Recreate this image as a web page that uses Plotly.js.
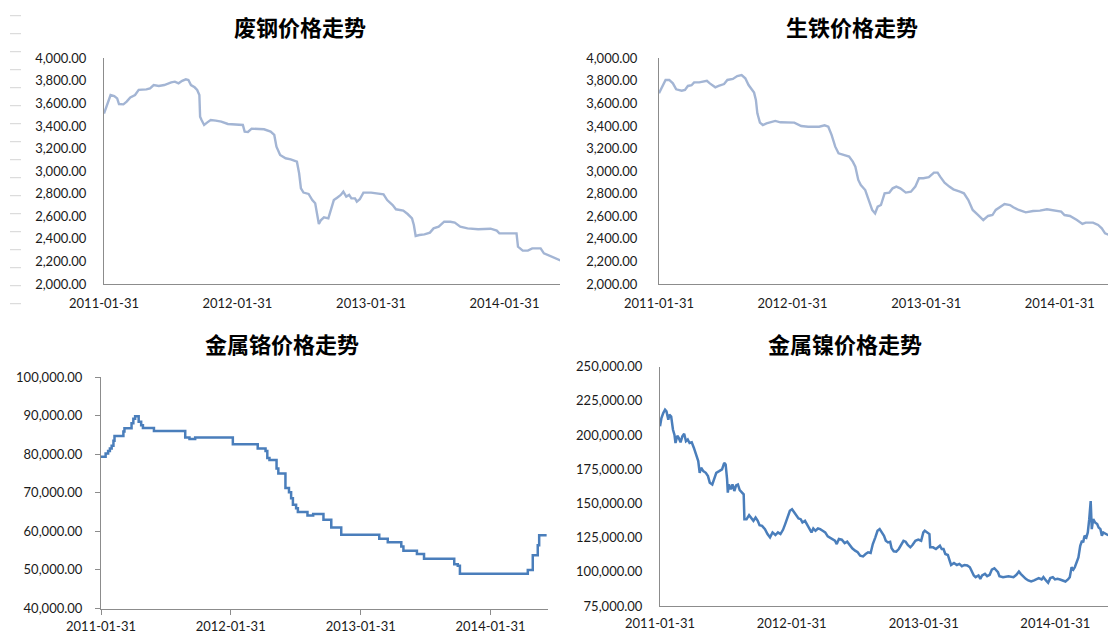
<!DOCTYPE html>
<html>
<head>
<meta charset="utf-8">
<script src="https://cdn.plot.ly/plotly-3.0.1.min.js"></script>
<style>html,body{margin:0;padding:0;background:#fff;}#chart{width:1108px;height:634px;}</style>
</head>
<body>
<div id="chart"></div>
<script>
// ---------- titles & ticks ----------
const chartTitles = ['废钢价格走势', '生铁价格走势', '金属铬价格走势', '金属镍价格走势'];
const xTickVals = ['2011-01-31', '2012-01-31', '2013-01-31', '2014-01-31'];
const xTickText = ['2011-01-31', '2012-01-31', '2013-01-31', '2014-01-31'];

// ---------- 废钢 (scrap steel) ----------
const scrapDates = [
  '2011-01-31','2011-02-09','2011-02-18','2011-02-28','2011-03-08','2011-03-13','2011-03-25','2011-04-03','2011-04-13','2011-04-26',
  '2011-05-06','2011-05-27','2011-06-06','2011-06-16','2011-06-30','2011-07-15','2011-07-25','2011-08-03','2011-08-13','2011-08-23',
  '2011-09-02','2011-09-12','2011-09-19','2011-09-26','2011-10-06','2011-10-13','2011-10-19','2011-10-21','2011-10-25','2011-11-01',
  '2011-11-09','2011-11-19','2011-12-03','2011-12-18','2012-01-05','2012-01-26','2012-02-15','2012-02-20','2012-02-29','2012-03-10',
  '2012-03-25','2012-04-13','2012-05-01','2012-05-11','2012-05-17','2012-05-27','2012-06-11','2012-06-25','2012-07-12','2012-07-18',
  '2012-07-23','2012-07-30','2012-08-13','2012-08-23','2012-08-31','2012-09-05','2012-09-10','2012-09-16','2012-09-24','2012-10-06',
  '2012-10-14','2012-10-21','2012-10-30','2012-11-09','2012-11-16','2012-11-24','2012-12-02','2012-12-08','2012-12-18','2012-12-23',
  '2012-12-31','2013-01-10','2013-01-31','2013-02-24','2013-03-06','2013-03-16','2013-03-31','2013-04-09','2013-04-29','2013-05-11',
  '2013-05-23','2013-05-28','2013-06-02','2013-06-12','2013-06-26','2013-07-11','2013-07-21','2013-08-04','2013-08-19','2013-09-05',
  '2013-09-17','2013-10-02','2013-10-22','2013-11-20','2013-12-24','2014-01-10','2014-01-17','2014-03-05','2014-03-09','2014-03-22',
  '2014-04-05','2014-04-17','2014-05-10','2014-05-19','2014-06-08','2014-06-23','2014-07-10'
];
const scrapValues = [
  3510,3586,3675,3666,3645,3595,3592,3616,3654,3675,
  3720,3725,3734,3763,3755,3763,3778,3787,3793,3778,
  3800,3814,3808,3763,3743,3720,3675,3483,3453,3409,
  3430,3453,3448,3439,3418,3415,3409,3350,3347,3377,
  3374,3371,3350,3321,3217,3143,3114,3105,3084,2981,
  2848,2810,2798,2744,2715,2626,2532,2567,2591,2582,
  2671,2744,2765,2789,2818,2774,2789,2759,2759,2730,
  2751,2810,2810,2804,2795,2744,2700,2662,2650,2620,
  2582,2523,2426,2434,2440,2455,2493,2508,2552,2552,
  2544,2508,2493,2485,2490,2473,2449,2449,2331,2296,
  2296,2316,2316,2272,2242,2219,2200
];

// ---------- 生铁 (pig iron) ----------
const pigDates = [
  '2011-01-31','2011-02-09','2011-02-18','2011-02-28','2011-03-10','2011-03-19','2011-04-03','2011-04-12','2011-04-20','2011-04-30',
  '2011-05-07','2011-05-21','2011-06-05','2011-06-11','2011-06-19','2011-07-04','2011-07-13','2011-07-28','2011-08-06','2011-08-21',
  '2011-09-02','2011-09-14','2011-09-24','2011-10-03','2011-10-18','2011-10-23','2011-10-27','2011-11-03','2011-11-11','2011-11-21',
  '2011-12-15','2011-12-29','2012-02-05','2012-02-14','2012-02-24','2012-03-14','2012-04-13','2012-04-28','2012-05-08','2012-05-17',
  '2012-05-27','2012-06-05','2012-06-20','2012-07-04','2012-07-14','2012-07-21','2012-07-29','2012-08-05','2012-08-17','2012-08-27',
  '2012-09-05','2012-09-13','2012-09-20','2012-09-29','2012-10-09','2012-10-22','2012-10-31','2012-11-10','2012-11-21','2012-12-06',
  '2012-12-20','2013-01-01','2013-01-11','2013-01-23','2013-02-07','2013-02-21','2013-03-03','2013-03-10','2013-03-22','2013-04-04',
  '2013-04-15','2013-05-03','2013-05-14','2013-05-26','2013-06-07','2013-06-22','2013-07-06','2013-07-19','2013-07-31','2013-08-09',
  '2013-08-21','2013-09-02','2013-09-17','2013-09-26','2013-10-11','2013-10-30','2013-11-19','2013-12-08','2013-12-27','2014-01-11',
  '2014-02-04','2014-02-13','2014-02-28','2014-03-19','2014-04-03','2014-04-12','2014-05-02','2014-05-16','2014-05-26','2014-06-04',
  '2014-06-16','2014-07-10'
];
const pigValues = [
  3690,3755,3808,3808,3778,3725,3713,3720,3755,3761,
  3787,3787,3793,3800,3778,3743,3755,3772,3808,3817,
  3843,3852,3823,3763,3696,3631,3513,3430,3409,3424,
  3445,3433,3430,3418,3400,3394,3394,3406,3394,3321,
  3217,3158,3143,3129,3084,3040,2922,2877,2833,2744,
  2656,2626,2685,2700,2804,2810,2848,2863,2848,2810,
  2818,2863,2937,2937,2946,2987,2987,2951,2898,2863,
  2839,2818,2804,2744,2656,2611,2567,2603,2611,2656,
  2685,2709,2700,2680,2656,2635,2647,2650,2662,2656,
  2641,2611,2603,2567,2532,2544,2544,2523,2493,2449,
  2430,2400
];

// ---------- 金属铬 (chromium metal), step changes ----------
const chromeDates = [
  '2011-01-31','2011-02-13','2011-02-20','2011-02-25','2011-03-02','2011-03-07','2011-03-10','2011-04-04','2011-04-07','2011-04-27',
  '2011-05-02','2011-05-07','2011-05-17','2011-05-24','2011-05-29','2011-06-29','2011-09-25','2011-10-07','2011-10-23','2012-02-06',
  '2012-04-16','2012-05-08','2012-05-13','2012-05-19','2012-06-08','2012-06-13','2012-07-03','2012-07-13','2012-07-19','2012-07-24',
  '2012-08-02','2012-08-07','2012-09-03','2012-09-19','2012-10-18','2012-11-09','2012-12-07','2013-03-24','2013-04-17','2013-05-25',
  '2013-05-31','2013-07-08','2013-07-28','2013-10-21','2013-10-31','2013-11-06','2014-05-16','2014-05-30','2014-06-13','2014-06-17',
  '2014-07-08'
];
const chromeValues = [
  79300,80200,80800,81500,82200,83500,84700,85900,86700,88000,
  89200,89800,88400,87500,86800,86000,84300,83900,84300,82600,
  81500,80800,79000,78500,76300,75000,71200,70100,68600,66900,
  66000,65000,64100,64500,63000,61000,59100,58100,57200,56100,
  55000,54100,52900,51500,51100,49000,50000,53800,56400,59000,
  59000
];

// ---------- 金属镍 (nickel metal) ----------
const nickelDates = [
  '2011-01-31','2011-02-04','2011-02-09','2011-02-14','2011-02-18','2011-02-23','2011-02-26','2011-03-03','2011-03-08','2011-03-12',
  '2011-03-15','2011-03-20','2011-03-24','2011-03-29','2011-04-03','2011-04-08','2011-04-13','2011-04-18','2011-04-23','2011-04-29',
  '2011-05-05','2011-05-12','2011-05-17','2011-05-21','2011-05-25','2011-05-31','2011-06-07','2011-06-13','2011-06-18','2011-06-25',
  '2011-06-30','2011-07-06','2011-07-14','2011-07-22','2011-07-28','2011-08-01','2011-08-05','2011-08-07','2011-08-10','2011-08-15',
  '2011-08-20','2011-08-25','2011-08-30','2011-09-04','2011-09-09','2011-09-15','2011-09-20','2011-09-22','2011-09-28','2011-10-05',
  '2011-10-12','2011-10-17','2011-10-23','2011-10-29','2011-11-03','2011-11-10','2011-11-18','2011-11-25','2011-12-02','2011-12-09',
  '2011-12-17','2011-12-24','2011-12-31','2012-01-07','2012-01-13','2012-01-20','2012-01-26','2012-02-01','2012-02-07','2012-02-13',
  '2012-02-19','2012-02-25','2012-03-01','2012-03-08','2012-03-13','2012-03-20','2012-03-26','2012-03-31','2012-04-06','2012-04-13',
  '2012-04-19','2012-04-26','2012-05-03','2012-05-10','2012-05-18','2012-05-25','2012-05-30','2012-06-04','2012-06-10','2012-06-18',
  '2012-06-26','2012-07-03','2012-07-10','2012-07-17','2012-07-25','2012-08-01','2012-08-08','2012-08-16','2012-08-23','2012-08-30',
  '2012-09-06','2012-09-12','2012-09-19','2012-09-25','2012-10-01','2012-10-06','2012-10-13','2012-10-18','2012-10-24','2012-10-30',
  '2012-11-03','2012-11-09','2012-11-16','2012-11-23','2012-11-30','2012-12-06','2012-12-12','2012-12-18','2012-12-25','2012-12-31',
  '2013-01-08','2013-01-16','2013-01-24','2013-01-30','2013-02-03','2013-02-11','2013-02-16','2013-02-18','2013-02-26','2013-03-06',
  '2013-03-12','2013-03-17','2013-03-22','2013-03-27','2013-04-01','2013-04-08','2013-04-13','2013-04-17','2013-04-25','2013-05-03',
  '2013-05-10','2013-05-17','2013-05-24','2013-06-01','2013-06-08','2013-06-13','2013-06-19','2013-06-24','2013-07-02','2013-07-07',
  '2013-07-12','2013-07-20','2013-07-26','2013-08-02','2013-08-08','2013-08-15','2013-08-20','2013-08-25','2013-08-29','2013-09-08',
  '2013-09-23','2013-10-07','2013-10-15','2013-10-22','2013-10-27','2013-11-04','2013-11-10','2013-11-17','2013-11-25','2013-12-03',
  '2013-12-10','2013-12-16','2013-12-24','2013-12-29','2014-01-05','2014-01-11','2014-01-17','2014-01-24','2014-01-30','2014-02-06',
  '2014-02-13','2014-02-20','2014-02-28','2014-03-07','2014-03-12','2014-03-17','2014-03-22','2014-03-26','2014-03-31','2014-04-05',
  '2014-04-10','2014-04-15','2014-04-18','2014-04-22','2014-04-27','2014-05-01','2014-05-05','2014-05-09','2014-05-12','2014-05-16',
  '2014-05-21','2014-05-27','2014-05-31','2014-06-05','2014-06-09','2014-06-13','2014-06-25','2014-07-10'
];
const nickelValues = [
  206400,212400,216100,218500,217300,211200,214900,213600,203900,200300,
  194200,199500,197900,194700,199100,201000,195500,196700,194200,194700,
  190600,185800,181000,172400,176100,173600,172400,170000,165200,163900,
  167600,172400,173600,174900,179700,178500,167600,157900,163900,160300,
  163900,159100,163200,163900,159800,157900,156700,138500,138500,141400,
  139000,137300,139700,137300,134100,133600,131200,127600,125200,128800,
  126900,128800,127600,130700,134900,139700,144600,145800,143300,140900,
  139000,138500,136100,137300,134900,132400,128800,131700,130000,131700,
  131200,130000,128800,125900,124700,124000,122700,120300,124000,123500,
  121000,122000,119100,117200,115500,114300,111800,111300,113000,114300,
  113800,120300,125200,130000,131200,128800,126400,122700,121500,122000,
  117200,115000,114700,116700,120300,122700,122000,119600,117900,119600,
  122700,123500,122700,128800,130000,128800,127600,117900,117900,116700,
  117900,119100,116700,116700,113000,112300,108200,105000,106500,105000,
  105800,104100,105000,104600,103300,100900,97300,96100,97300,94900,
  97300,98500,96800,97800,101600,102600,100900,99700,96800,96100,
  96800,96100,97800,100200,98500,96100,94900,93700,92900,93700,
  94900,95400,94400,96100,93700,92000,95400,96100,94400,94900,
  94400,93700,92900,94400,96100,103300,101600,103300,107000,110600,
  119100,122700,121500,126400,125200,128800,138500,151800,131200,138500,
  136100,134900,132400,131200,126400,128800,127000,126000
];

// ---------- figure ----------
const W = 1108, H = 634;
const px = (x) => x / W;
const py = (y) => 1 - y / H;

const lightLine = {color: '#A3B5D4', width: 2.4};
const darkLine = {color: '#4A7EBB', width: 2.5};

const traces = [
  {x: scrapDates, y: scrapValues, xaxis: 'x', yaxis: 'y', type: 'scatter', mode: 'lines', line: lightLine, hoverinfo: 'skip'},
  {x: pigDates, y: pigValues, xaxis: 'x2', yaxis: 'y2', type: 'scatter', mode: 'lines', line: lightLine, hoverinfo: 'skip'},
  {x: chromeDates, y: chromeValues, xaxis: 'x3', yaxis: 'y3', type: 'scatter', mode: 'lines', line: Object.assign({shape: 'hv'}, darkLine), hoverinfo: 'skip'},
  {x: nickelDates, y: nickelValues, xaxis: 'x4', yaxis: 'y4', type: 'scatter', mode: 'lines', line: darkLine, hoverinfo: 'skip'}
];

const tickFont = {family: 'Lato, "Liberation Sans", sans-serif', size: 13, color: '#1a1a1a'};

function xAx(domain, range, anchor, withTicks, standoff) {
  return {
    domain: domain, anchor: anchor, type: 'date', range: range,
    tickmode: 'array', tickvals: xTickVals, ticktext: xTickText,
    showgrid: false, zeroline: false, showline: true, linecolor: '#8c8c8c', linewidth: 1,
    ticks: withTicks ? 'outside' : '', ticklen: 5, tickcolor: '#8c8c8c', tickwidth: 1,
    tickfont: tickFont, ticklabelstandoff: standoff, fixedrange: true
  };
}
function yAx(domain, range, dtick, anchor, withTicks, standoff) {
  return {
    domain: domain, anchor: anchor, range: range, dtick: dtick, tick0: range[0],
    tickformat: ',.2f', showgrid: false, zeroline: false, showline: true, linecolor: '#8c8c8c', linewidth: 1,
    ticks: withTicks ? 'outside' : '', ticklen: 5, tickcolor: '#8c8c8c', tickwidth: 1,
    tickfont: tickFont, ticklabelstandoff: standoff, fixedrange: true
  };
}

const shapes = [];
for (let k = 0; k < 17; k++) {
  const yy = py(15.7 + 18 * k);
  shapes.push({type: 'line', xref: 'paper', yref: 'paper', x0: px(10), x1: px(21), y0: yy, y1: yy,
               line: {color: '#d4d4d4', width: 1}});
}

const titleFont = {family: '"Noto Sans CJK SC", sans-serif', size: 22, color: '#000', weight: 700};
const titlePos = [[300, 26], [852, 26], [282, 343], [845, 343]];
const annotations = chartTitles.map((t, i) => ({
  text: '<b>' + t + '</b>', xref: 'paper', yref: 'paper', x: px(titlePos[i][0]), y: py(titlePos[i][1]),
  xanchor: 'center', yanchor: 'middle', showarrow: false, font: titleFont
}));

const layout = {
  width: W, height: H, margin: {l: 0, r: 0, t: 0, b: 0},
  paper_bgcolor: '#ffffff', plot_bgcolor: 'rgba(0,0,0,0)', showlegend: false,
  font: tickFont,
  xaxis:  xAx([px(104), px(560)],  ['2011-01-31', '2014-07-02'], 'y', false, 7),
  yaxis:  yAx([py(284), py(58.3)], [2000, 4000], 200, 'x', false, 14),
  xaxis2: xAx([px(659), px(1108)], ['2011-01-31', '2014-06-12'], 'y2', false, 7),
  yaxis2: yAx([py(284), py(58.3)], [2000, 4000], 200, 'x2', false, 18),
  xaxis3: xAx([px(101), px(547.7)], ['2011-01-31', '2014-07-11'], 'y3', true, 1),
  yaxis3: yAx([py(608.5), py(377)], [40000, 100000], 10000, 'x3', true, 10),
  xaxis4: xAx([px(660), px(1108)], ['2011-01-31', '2014-06-26'], 'y4', false, 5),
  yaxis4: yAx([py(606), py(366.7)], [75000, 250000], 25000, 'x4', false, 14),
  shapes: shapes,
  annotations: annotations
};

Plotly.newPlot('chart', traces, layout, {displayModeBar: false, staticPlot: true});
</script>
</body>
</html>
